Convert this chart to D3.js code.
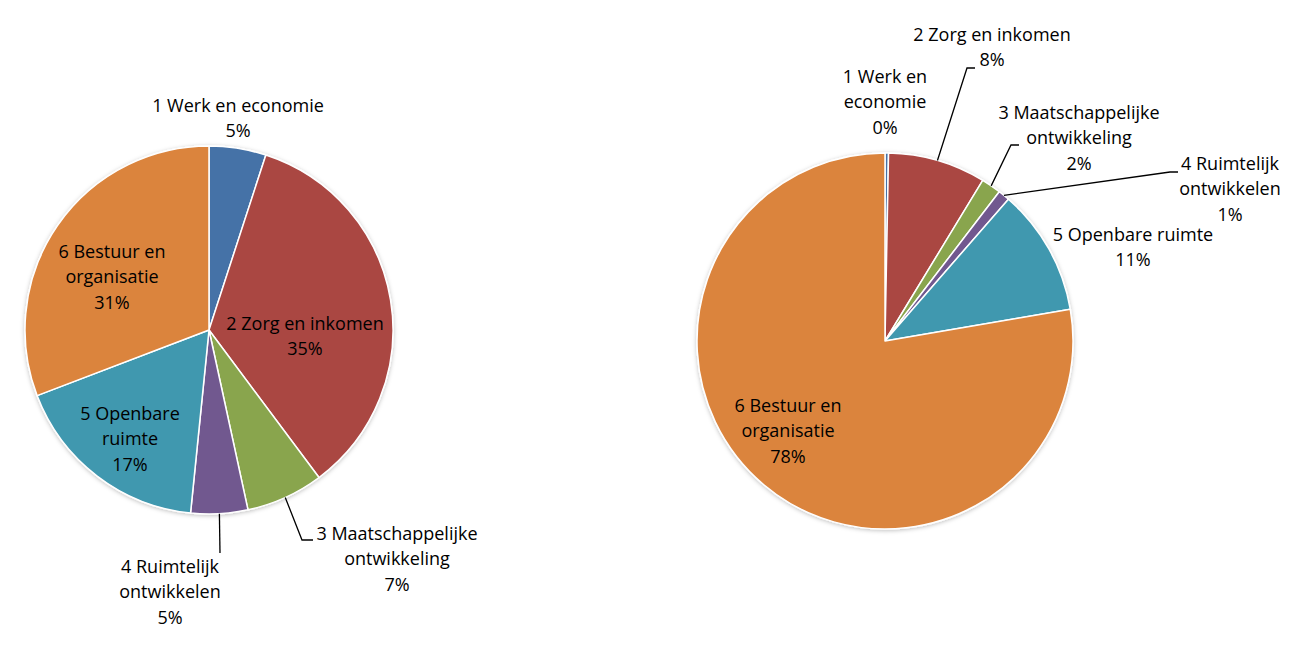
<!DOCTYPE html>
<html>
<head>
<meta charset="utf-8">
<script src="https://cdn.jsdelivr.net/npm/d3@7"></script>
<style>
  body { margin: 0; background: #fff; }
  svg text { font-family: "Open Sans", "Noto Sans", sans-serif; font-size: 18px; fill: #000; }
</style>
</head>
<body>
<script>
const width = 1295, height = 665;

// categories and shares (percent)
const categories = ["1 Werk en economie", "2 Zorg en inkomen", "3 Maatschappelijke ontwikkeling",
  "4 Ruimtelijk ontwikkelen", "5 Openbare ruimte", "6 Bestuur en organisatie"];
const leftValues = [5.0, 34.8, 6.8, 5.0, 17.6, 30.8];
const rightValues = [0.3, 8.4, 1.7, 1.0, 10.9, 77.7];
const leftPct = ["5%", "35%", "7%", "5%", "17%", "31%"];
const rightPct = ["0%", "8%", "2%", "1%", "11%", "78%"];

// how each label is broken into lines
const leftLines = [["1 Werk en economie"], ["2 Zorg en inkomen"], ["3 Maatschappelijke", "ontwikkeling"],
  ["4 Ruimtelijk", "ontwikkelen"], ["5 Openbare", "ruimte"], ["6 Bestuur en", "organisatie"]];
const rightLines = [["1 Werk en", "economie"], ["2 Zorg en inkomen"], ["3 Maatschappelijke", "ontwikkeling"],
  ["4 Ruimtelijk", "ontwikkelen"], ["5 Openbare ruimte"], ["6 Bestuur en", "organisatie"]];

const colors = ["#4572a7", "#aa4643", "#89a54e", "#71588f", "#4198af", "#db843d"];
const color = d3.scaleOrdinal().domain(categories).range(colors);

// label block centres relative to pie centre, and leader bends (relative to centre)
const leftLayout = [
  {x: 29, y: -212}, {x: 96, y: 6}, {x: 188, y: 229, leader: [[93, 210], [104, 210]]},
  {x: -39, y: 262, leader: [[11, 223]]}, {x: -79, y: 109}, {x: -97, y: -53}
];
const rightLayout = [
  {x: 0, y: -239}, {x: 107, y: -294, leader: [[82, -273], [90, -273]]},
  {x: 194, y: -203, leader: [[126, -196], [134, -196]]},
  {x: 345, y: -152, leader: [[285, -169], [293, -169]]},
  {x: 248, y: -94}, {x: -97, y: 90}
];

const svg = d3.select("body").append("svg")
  .attr("width", width)
  .attr("height", height);

const defs = svg.append("defs");
const f = defs.append("filter").attr("id", "shadow")
  .attr("x", "-10%").attr("y", "-10%").attr("width", "120%").attr("height", "120%");
f.append("feDropShadow").attr("dx", 0).attr("dy", 1).attr("stdDeviation", 2)
  .attr("flood-color", "#000").attr("flood-opacity", 0.25);

function drawPie(cx, cy, r, values, lines, pcts, layout) {
  const data = categories.map((c, i) => ({cat: c, value: values[i], lines: lines[i], pct: pcts[i], lay: layout[i]}));
  const pie = d3.pie().sort(null).value(d => d.value);
  const arc = d3.arc().innerRadius(0).outerRadius(r);
  const arcs = pie(data);

  const g = svg.append("g").attr("transform", `translate(${cx},${cy})`);

  g.append("g").attr("filter", "url(#shadow)")
    .selectAll("path")
    .data(arcs)
    .join("path")
    .attr("d", arc)
    .attr("fill", d => color(d.data.cat))
    .attr("stroke", "#fff")
    .attr("stroke-width", 1.5)
    .attr("stroke-linejoin", "round");

  // leader lines from slice edge
  arcs.filter(d => d.data.lay.leader).forEach(d => {
    const mid = (d.startAngle + d.endAngle) / 2;
    const start = [r * Math.sin(mid), -r * Math.cos(mid)];
    g.append("path")
      .attr("d", d3.line()([start, ...d.data.lay.leader]))
      .attr("fill", "none")
      .attr("stroke", "#000")
      .attr("stroke-width", 1.3);
  });

  const lineH = 25.5;
  arcs.forEach(d => {
    const rows = d.data.lines.concat([d.data.pct]);
    const t = g.append("text")
      .attr("text-anchor", "middle")
      .attr("x", d.data.lay.x)
      .attr("y", d.data.lay.y - (rows.length - 1) * lineH / 2)
      .attr("dy", "0.35em");
    rows.forEach((s, i) => {
      t.append("tspan").attr("x", d.data.lay.x).attr("dy", i === 0 ? "0.35em" : lineH).text(s);
    });
  });
}

drawPie(209, 330, 184, leftValues, leftLines, leftPct, leftLayout);
drawPie(885, 341, 188, rightValues, rightLines, rightPct, rightLayout);
</script>
</body>
</html>
